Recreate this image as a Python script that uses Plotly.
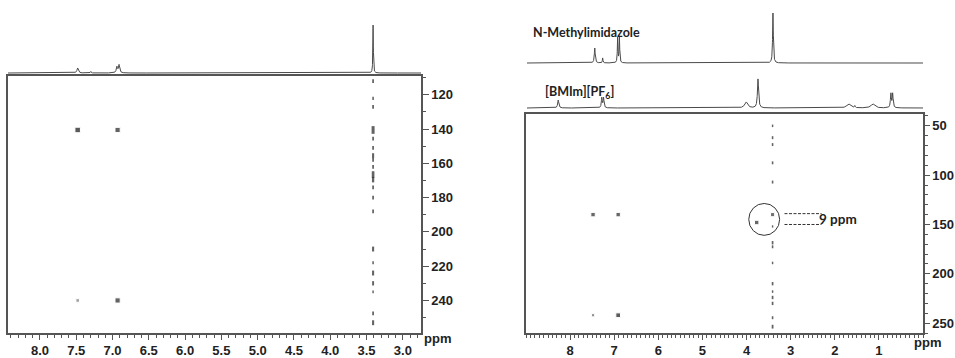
import numpy as np
import plotly.graph_objects as go

W, H = 955, 358

# ---------------- data ----------------
# Left panel: 1D projection peaks (ppm, height, half-width)
left1d_pos = [7.48, 7.30, 6.94, 6.91, 3.41]
left1d_h = [5, 1.5, 6, 8, 48]
left1d_w = [0.012, 0.006, 0.010, 0.010, 0.004]

# Left panel 2D cross peaks (1H ppm, 2nd dim ppm, relative intensity)
left2d_x = [7.48, 6.93, 7.48, 6.93]
left2d_y = [140.5, 140.5, 240, 240]
left2d_i = [1.0, 0.9, 0.35, 0.9]
left_col_x = 3.41
left_col_y = [112, 122, 127, 140.5, 145.5, 151, 155.5, 158, 162, 166.5, 169.5,
              174, 180, 188, 210, 218, 224, 230, 235, 247.5, 253]
left_col_i = [0.3, 0.2, 0.3, 1.0, 0.3, 0.3, 0.5, 0.3, 0.3, 0.8, 0.6,
              0.3, 0.3, 0.3, 0.5, 0.2, 0.5, 0.4, 0.15, 0.3, 0.5]

# Right panel: N-Methylimidazole 1D
nmi_pos = [7.46, 7.28, 6.94, 6.90, 3.41]
nmi_h = [15, 5, 25, 25, 50]
nmi_w = [0.012, 0.008, 0.008, 0.008, 0.010]

# Right panel: [BMIm][PF6] 1D
bmim_pos = [8.29, 7.30, 7.26, 4.02, 3.75, 1.69, 1.55, 1.14, 0.73, 0.69]
bmim_h = [8, 10, 10, 6, 29, 4, 2, 4, 14, 14]
bmim_w = [0.015, 0.012, 0.012, 0.04, 0.015, 0.05, 0.01, 0.05, 0.012, 0.012]

# Right panel 2D peaks
right2d_x = [7.48, 6.91, 7.48, 6.91, 3.77, 3.41]
right2d_y = [140, 140, 242, 242, 148, 140]
right2d_i = [0.8, 0.8, 0.4, 0.9, 0.8, 0.7]
right_col_x = 3.41
right_col_y = [50, 62, 69, 87.5, 107, 152, 168.5, 172.6, 189, 210, 218, 224, 230, 244.5, 253.6]
right_col_i = [0.2, 0.3, 0.3, 0.3, 0.3, 0.15, 0.4, 0.3, 0.2, 0.4, 0.2, 0.4, 0.4, 0.3, 0.5]

left_xticks = [8.0, 7.5, 7.0, 6.5, 6.0, 5.5, 5.0, 4.5, 4.0, 3.5, 3.0]
left_xticklabels = ["8.0", "7.5", "7.0", "6.5", "6.0", "5.5", "5.0", "4.5", "4.0", "3.5", "3.0"]
left_yticks = [120, 140, 160, 180, 200, 220, 240]
right_xticks = [8, 7, 6, 5, 4, 3, 2, 1]
right_yticks = [50, 100, 150, 200, 250]


def spectrum(xr, pos, h, w, n=6000):
    x = np.linspace(xr[0], xr[1], n)
    y = np.zeros_like(x)
    for p, hh, ww in zip(pos, h, w):
        y += hh / (1 + ((x - p) / ww) ** 2)
    return x, y


def px(x):
    return x / W


def py(y):
    return 1 - y / H


L_XR = [8.44, 2.75]
L_YR = [259, 109]
R_XR = [9.0, 0.0]
R_YR = [260, 38]

AX_COL = "#555"
TICKFONT = dict(family="Liberation Sans, Arial", size=13, color="#222", weight="bold")
SPEC_COL = "#4a4a4a"

fig = go.Figure()

# ---- left 1D ----
x, y = spectrum(L_XR, left1d_pos, left1d_h, left1d_w)
fig.add_trace(go.Scatter(x=x, y=y, mode="lines", line=dict(color=SPEC_COL, width=1),
                         xaxis="x2", yaxis="y2", hoverinfo="skip"))

# ---- left 2D ----
fig.add_trace(go.Scatter(x=left2d_x, y=left2d_y, mode="markers",
                         marker=dict(symbol="square", size=[2.5 + 3 * i for i in left2d_i],
                                     color=["rgba(20,20,20,%.2f)" % (0.35 + 0.65 * i) for i in left2d_i]),
                         xaxis="x", yaxis="y", hoverinfo="skip"))
fig.add_trace(go.Scatter(x=[left_col_x] * len(left_col_y), y=left_col_y, mode="markers",
                         marker=dict(symbol="line-ns", size=[1.5 + 4 * i for i in left_col_i],
                                     line=dict(color="#222", width=[1.2 + 1.8 * i for i in left_col_i])),
                         xaxis="x", yaxis="y", hoverinfo="skip"))

# ---- right 1D spectra ----
x, y = spectrum(R_XR, nmi_pos, nmi_h, nmi_w)
fig.add_trace(go.Scatter(x=x, y=y, mode="lines", line=dict(color=SPEC_COL, width=1),
                         xaxis="x4", yaxis="y4", hoverinfo="skip"))
x, y = spectrum(R_XR, bmim_pos, bmim_h, bmim_w)
fig.add_trace(go.Scatter(x=x, y=y, mode="lines", line=dict(color=SPEC_COL, width=1),
                         xaxis="x5", yaxis="y5", hoverinfo="skip"))

# ---- right 2D ----
fig.add_trace(go.Scatter(x=right2d_x, y=right2d_y, mode="markers",
                         marker=dict(symbol="square", size=[2 + 3 * i for i in right2d_i],
                                     color=["rgba(10,10,10,%.2f)" % (0.4 + 0.6 * i) for i in right2d_i]),
                         xaxis="x3", yaxis="y3", hoverinfo="skip"))
fig.add_trace(go.Scatter(x=[right_col_x] * len(right_col_y), y=right_col_y, mode="markers",
                         marker=dict(symbol="line-ns", size=[1.2 + 3 * i for i in right_col_i],
                                     line=dict(color="#222", width=[1.2 + 1.2 * i for i in right_col_i])),
                         xaxis="x3", yaxis="y3", hoverinfo="skip"))

box_axis = dict(showline=True, linecolor=AX_COL, linewidth=1.5, mirror=True, showgrid=False,
                zeroline=False, ticks="outside", tickcolor=AX_COL, tickwidth=1, tickfont=TICKFONT)
hidden = dict(visible=False, showgrid=False, zeroline=False)

fig.update_layout(
    width=W, height=H, margin=dict(l=0, r=0, t=0, b=0),
    paper_bgcolor="white", plot_bgcolor="rgba(0,0,0,0)", showlegend=False,
    xaxis=dict(**box_axis, domain=[px(8), px(421)], range=L_XR, anchor="y",
               tickvals=left_xticks, ticktext=left_xticklabels, ticklen=5,
               minor=dict(dtick=0.1, tick0=0, ticklen=3, ticks="outside", tickcolor=AX_COL)),
    yaxis=dict(**box_axis, domain=[py(333), py(76)], range=L_YR, anchor="x", side="right",
               tickvals=left_yticks, ticklen=6,
               minor=dict(dtick=10, tick0=0, ticklen=3, ticks="outside", tickcolor=AX_COL)),
    xaxis2=dict(**hidden, domain=[px(8), px(421)], range=L_XR, anchor="y2"),
    yaxis2=dict(**hidden, domain=[py(74), py(10)], range=[-1, 63], anchor="x2"),
    xaxis3=dict(**box_axis, domain=[px(526), px(923)], range=R_XR, anchor="y3",
                tickvals=right_xticks, ticklen=5,
                minor=dict(dtick=0.1, tick0=0, ticklen=3, ticks="outside", tickcolor=AX_COL)),
    yaxis3=dict(**box_axis, domain=[py(333), py(114)], range=R_YR, anchor="x3", side="right",
                tickvals=right_yticks, ticklen=5,
                minor=dict(dtick=10, tick0=0, ticklen=3, ticks="outside", tickcolor=AX_COL)),
    xaxis4=dict(**hidden, domain=[px(527), px(923)], range=R_XR, anchor="y4"),
    yaxis4=dict(**hidden, domain=[py(64), py(5)], range=[-1, 58], anchor="x4"),
    xaxis5=dict(**hidden, domain=[px(527), px(923)], range=R_XR, anchor="y5"),
    yaxis5=dict(**hidden, domain=[py(109), py(70)], range=[-1, 38], anchor="x5"),
)

LBL = dict(family="Lato, Noto Sans, sans-serif", size=12.5, color="#222", weight="bold")
fig.add_annotation(x=px(437), y=py(348), xref="paper", yref="paper", text="ppm", showarrow=False,
                   font=TICKFONT)
fig.add_annotation(x=px(943), y=py(352), xref="paper", yref="paper", text="ppm", showarrow=False,
                   font=TICKFONT)
fig.add_annotation(x=px(531), y=py(23), xref="paper", yref="paper", xanchor="left",
                   text="N-Methylimidazole", showarrow=False, font=LBL)
fig.add_annotation(x=px(543), y=py(82), xref="paper", yref="paper", xanchor="left",
                   text="[BMIm][PF<sub>6</sub>]", showarrow=False, font=LBL)
fig.add_annotation(x=2.32, y=144.5, xref="x3", yref="y3", xanchor="left", xshift=-4,
                   text="9 ppm", showarrow=False, font=dict(LBL, size=13.5))

# circle and dashed guide lines (data coords of right 2D)
fig.add_shape(type="circle", xref="x3", yref="y3", x0=3.95, x1=3.25, y0=128.7, y1=161,
              line=dict(color="#333", width=1))
for yy in [139, 150]:
    fig.add_shape(type="line", xref="x3", yref="y3", x0=3.14, x1=2.30, y0=yy, y1=yy,
                  line=dict(color="#333", width=1, dash="3px,1.5px"))

fig.write_html("out.html", config={"displayModeBar": False},
               post_script="document.body.style.margin='0';document.body.style.overflow='hidden';")
